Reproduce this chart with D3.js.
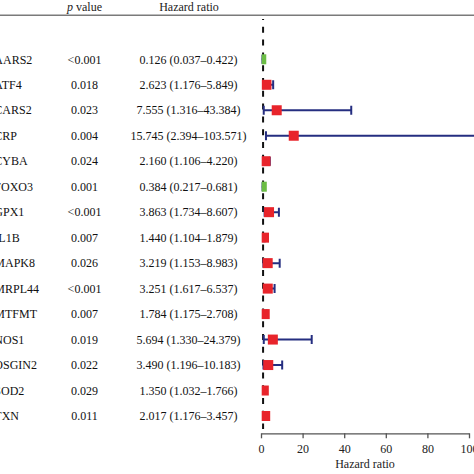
<!DOCTYPE html>
<html>
<head>
<meta charset="utf-8">
<script src="https://cdn.jsdelivr.net/npm/d3@7"></script>
<style>
  html, body { margin: 0; padding: 0; background: #fff; }
  svg { display: block; }
  text { font-family: "Liberation Serif", "DejaVu Serif", serif; }
</style>
</head>
<body>
<svg id="chart" width="474" height="474"></svg>
<script>
// ---- data ----
const genes = ["AARS2","ATF4","CARS2","CRP","CYBA","FOXO3","GPX1","IL1B","MAPK8","MRPL44","MTFMT","NOS1","OSGIN2","SOD2","TXN"];
const pValues = ["<0.001","0.018","0.023","0.004","0.024","0.001","<0.001","0.007","0.026","<0.001","0.007","0.019","0.022","0.029","0.011"];
const hr = [0.126, 2.623, 7.555, 15.745, 2.160, 0.384, 3.863, 1.440, 3.219, 3.251, 1.784, 5.694, 3.490, 1.350, 2.017];
const lower = [0.037, 1.176, 1.316, 2.394, 1.106, 0.217, 1.734, 1.104, 1.153, 1.617, 1.175, 1.330, 1.196, 1.032, 1.176];
const upper = [0.422, 5.849, 43.384, 103.571, 4.220, 0.681, 8.607, 1.879, 8.983, 6.537, 2.708, 24.379, 10.183, 1.766, 3.457];
const xTicks = [0, 20, 40, 60, 80, 100];
const refLine = 1;

const fmt = d3.format(".3f");
const rows = genes.map((g, i) => ({
  gene: g, p: pValues[i], hr: hr[i], lo: lower[i], hi: upper[i],
  label: `${fmt(hr[i])} (${fmt(lower[i])}–${fmt(upper[i])})`
}));

const svg = d3.select("#chart");
const W = 474, H = 474;

const x = d3.scaleLinear().domain([0, 100]).range([261, 469]);
const y = d3.scalePoint().domain(genes).range([59.3, 416]);

const red = "#e8242b", green = "#6cbd45", navy = "#252e80";

// header
svg.append("line").attr("x1", 0).attr("x2", W).attr("y1", 15.3).attr("y2", 15.3)
  .attr("stroke", "#7a7a7a").attr("stroke-width", 1.5);
const hp = svg.append("text").attr("x", 84.5).attr("y", 11).attr("text-anchor", "middle")
  .attr("font-size", 12).attr("fill", "#222");
hp.append("tspan").attr("font-style", "italic").text("p");
hp.append("tspan").text(" value");
svg.append("text").attr("x", 189).attr("y", 11).attr("text-anchor", "middle")
  .attr("font-size", 12).attr("fill", "#222").text("Hazard ratio");

// table text
const tg = svg.append("g").attr("font-size", 12).attr("fill", "#111");
tg.selectAll("text.gene").data(rows).join("text").attr("class", "gene")
  .attr("x", -5.7).attr("y", d => y(d.gene)).attr("dy", "0.35em").text(d => d.gene);
tg.selectAll("text.p").data(rows).join("text").attr("class", "p")
  .attr("x", 84.5).attr("y", d => y(d.gene)).attr("dy", "0.35em")
  .attr("text-anchor", "middle").text(d => d.p);
tg.selectAll("text.hr").data(rows).join("text").attr("class", "hr")
  .attr("x", 188.5).attr("y", d => y(d.gene)).attr("dy", "0.35em")
  .attr("text-anchor", "middle").text(d => d.label);

// reference dashed line
svg.append("line").attr("x1", x(refLine)).attr("x2", x(refLine))
  .attr("y1", 19).attr("y2", 429)
  .attr("stroke", "#111").attr("stroke-width", 2).attr("stroke-dasharray", "6,6.8")
  .attr("stroke-dashoffset", 5);

// clip for markers
svg.append("defs").append("clipPath").attr("id", "plotclip")
  .append("rect").attr("x", x(0) + 0.7).attr("y", 20).attr("width", W).attr("height", 420);

const pg = svg.append("g").attr("clip-path", "url(#plotclip)");
const capH = 9;
pg.selectAll("line.ci").data(rows).join("line").attr("class", "ci")
  .attr("x1", d => x(d.lo)).attr("x2", d => x(d.hi))
  .attr("y1", d => y(d.gene)).attr("y2", d => y(d.gene))
  .attr("stroke", navy).attr("stroke-width", 2);
pg.selectAll("line.caplo").data(rows).join("line").attr("class", "caplo")
  .attr("x1", d => x(d.lo)).attr("x2", d => x(d.lo))
  .attr("y1", d => y(d.gene) - capH / 2).attr("y2", d => y(d.gene) + capH / 2)
  .attr("stroke", navy).attr("stroke-width", 2);
pg.selectAll("line.caphi").data(rows).join("line").attr("class", "caphi")
  .attr("x1", d => x(d.hi)).attr("x2", d => x(d.hi))
  .attr("y1", d => y(d.gene) - capH / 2).attr("y2", d => y(d.gene) + capH / 2)
  .attr("stroke", navy).attr("stroke-width", 2);
const bs = 10;
pg.selectAll("rect.box").data(rows).join("rect").attr("class", "box")
  .attr("x", d => x(d.hr) - bs / 2).attr("y", d => y(d.gene) - bs / 2)
  .attr("width", bs).attr("height", bs)
  .attr("fill", d => d.hr < 1 ? green : red);

// axis
const ax = svg.append("g").attr("transform", "translate(0,433.3)")
  .call(d3.axisBottom(x).tickValues(xTicks).tickSize(5).tickSizeOuter(0).tickPadding(6));
ax.select(".domain").attr("stroke", "#555").attr("stroke-width", 1.3);
ax.selectAll(".tick line").attr("stroke", "#555").attr("stroke-width", 1.3);
ax.selectAll(".tick text").attr("font-family", "Liberation Serif, serif")
  .attr("font-size", 12).attr("fill", "#222");
svg.append("text").attr("x", x(50)).attr("y", 468).attr("text-anchor", "middle")
  .attr("font-size", 12).attr("fill", "#222").text("Hazard ratio");
</script>
</body>
</html>
